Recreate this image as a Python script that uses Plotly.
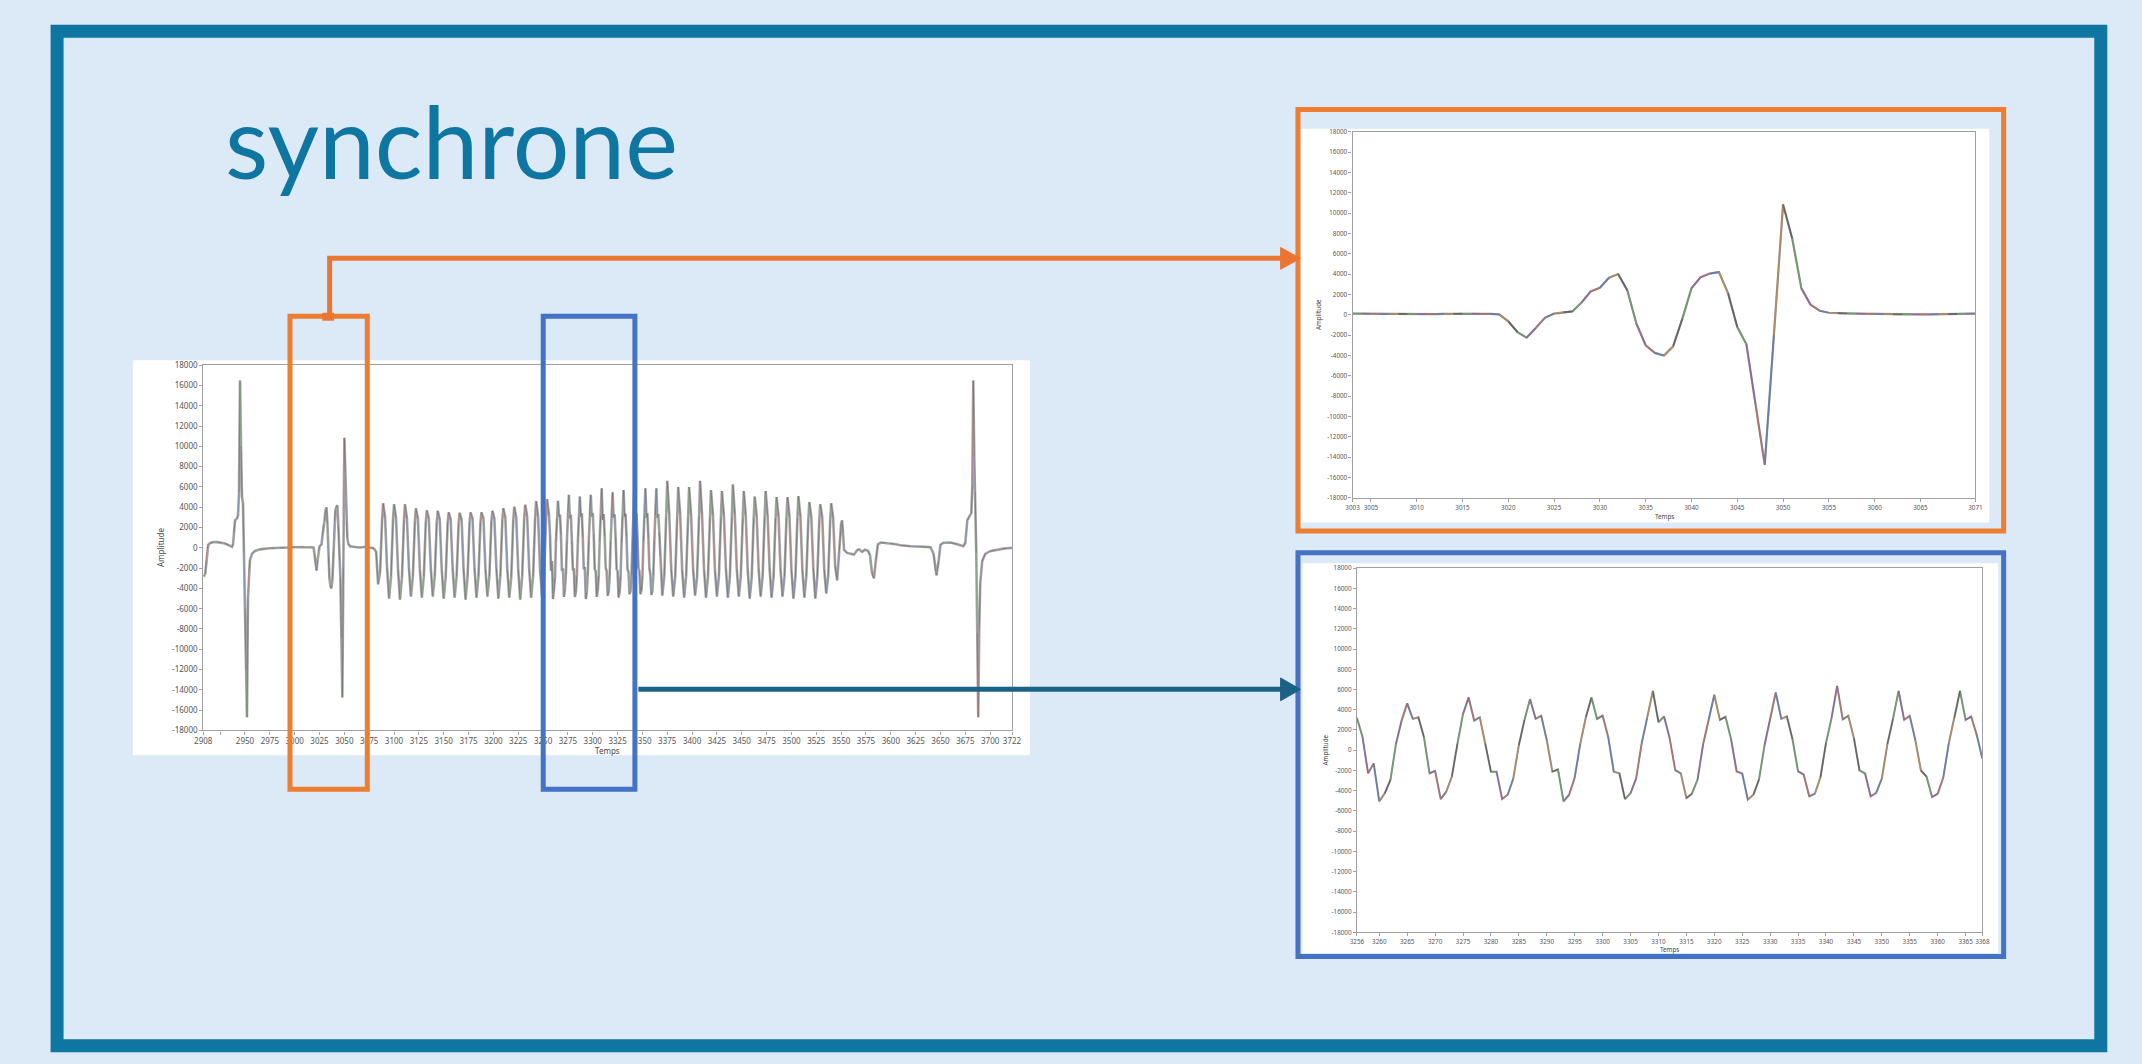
import plotly.graph_objects as go

W, H = 2142, 1064

# ---------------- signal data ----------------
# Full record, sparse samples before the first zoom window
MAIN_HEAD_T = [2908, 2909, 2910, 2911, 2912, 2913, 2915, 2918, 2922, 2926, 2930, 2934, 2937,
               2938, 2939, 2940, 2942, 2943, 2944, 2945, 2946, 2947, 2948, 2949, 2950, 2951,
               2952, 2953, 2954, 2955, 2957, 2960, 2965, 2970, 2975, 2980, 2985, 2990, 2995,
               3000, 3002]
MAIN_HEAD_V = [-2700, -2750, -2550, -1300, -100, 300, 480, 560, 560, 520, 420, 250, 100,
               400, 1500, 2700, 2900, 3200, 5500, 16500, 10000, 5000, 4400, -500, -6000, -12000,
               -16700, -5000, -2200, -1200, -600, -300, -150, -80, -40, -20, 0, 20, 40,
               70, 100]

# Zoom window 1 (one sample per time step)
ORANGE_START = 3003
ORANGE_V = [120, 110, 100, 60, 70, 90, 80, 60, 60, 70,            # 3003-3012
            90, 100, 110, 110, 100, 90, 40, -650, -1700, -2250,   # 3013-3022
            -1300, -300, 120, 250, 330, 1200, 2300, 2650, 3650, 4000,  # 3023-3032
            2400, -900, -3000, -3750, -4000, -3100, -400, 2600, 3700, 4050,  # 3033-3042
            4200, 2100, -1200, -2900, -8800, -14750, -2000, 10850, 7500, 2600,  # 3043-3052
            1000, 400, 200, 140, 130, 110, 90, 70, 50, 30,        # 3053-3062
            20, 20, 30, 40, 60, 80, 90, 110, 120]                 # 3063-3071

# Sparse samples between the two zoom windows
MAIN_MID_T = [3072, 3075, 3078, 3080, 3082, 3084, 3086, 3088,
              3089, 3091, 3093, 3095, 3097, 3099,
              3100, 3102, 3104, 3106, 3108, 3110,
              3111, 3113, 3115, 3117, 3119, 3121,
              3122, 3124, 3126, 3128, 3130, 3132,
              3133, 3135, 3137, 3139, 3141, 3143,
              3144, 3146, 3148, 3150, 3152, 3154,
              3155, 3157, 3159, 3161, 3163, 3165,
              3166, 3168, 3170, 3172, 3174, 3176,
              3177, 3179, 3181, 3183, 3185, 3187,
              3188, 3190, 3192, 3194, 3196, 3198,
              3199, 3201, 3203, 3205, 3207, 3209,
              3210, 3212, 3214, 3216, 3218, 3220,
              3221, 3223, 3225, 3227, 3229, 3231,
              3232, 3234, 3236, 3238, 3240, 3242,
              3243, 3245, 3247, 3249, 3251, 3253,
              3254]
MAIN_MID_V = [100, 30, 0, -100, -400, -3600, -2400, 2800,
              4400, 3000, -2000, -5000, -2800, 2800,
              4300, 3000, -2100, -5100, -2900, 2700,
              4300, 2900, -2000, -4800, -2800, 2600,
              3900, 2900, -2100, -4900, -2800, 2600,
              3700, 2900, -2000, -4800, -2800, 2500,
              3650, 2800, -2100, -5000, -2900, 2500,
              3500, 2800, -2000, -4900, -2800, 2400,
              3450, 2800, -2100, -5100, -2900, 2500,
              3500, 2900, -2000, -4900, -2800, 2500,
              3500, 2900, -2100, -4800, -2800, 2600,
              3650, 2900, -2000, -5000, -2800, 2700,
              3900, 3000, -2100, -4900, -2900, 2700,
              4050, 3000, -2100, -5100, -2800, 2800,
              4250, 3100, -2000, -4900, -2800, 2900,
              4600, 3100, -2200, -4800, -2900, 2900,
              4800]

# Zoom window 2 (one sample per time step)
BLUE_START = 3256
BLUE_V = [3200, 1300, -2280, -1300, -5050, -4240, -2930, 650, 2930,          # 3256-3264
          4630, 3100, 3260, 1300, -2280, -2050, -4830, -4080, -2600, 650, 3590,  # 3265-3275
          5220, 2930, 3260, 650, -2120, -2120, -4830, -4400, -2800, 500, 3000,   # 3276-3286
          5050, 3100, 3400, 1000, -2120, -1900, -5050, -4400, -2700, 650, 3260,  # 3287-3297
          5220, 3100, 3420, 1300, -2120, -2280, -4830, -4240, -2800, 700, 3200,  # 3298-3308
          5870, 2770, 3330, 1200, -1960, -2280, -4730, -4300, -2900, 600, 3000,  # 3309-3319
          5480, 3000, 3300, 1100, -2100, -2300, -4890, -4400, -2900, 500, 3100,  # 3320-3330
          5700, 3100, 3350, 1100, -2100, -2400, -4560, -4300, -2700, 700, 3200,  # 3331-3341
          6360, 3050, 3400, 1200, -2000, -2300, -4560, -4200, -2800, 600, 3100,  # 3342-3352
          5870, 3000, 3400, 1000, -2000, -2600, -4630, -4300, -2700, 700, 3200,  # 3353-3363
          5870, 3000, 3330, 1500, -815]                                         # 3364-3368

# Sparse samples after the second zoom window
MAIN_TAIL_T = [3369, 3370, 3372, 3374,
               3375, 3377, 3379, 3381, 3383, 3385,
               3386, 3388, 3390, 3392, 3394, 3396,
               3397, 3399, 3401, 3403, 3405, 3407,
               3408, 3410, 3412, 3414, 3416, 3418,
               3419, 3421, 3423, 3425, 3427, 3429,
               3430, 3432, 3434, 3436, 3438, 3440,
               3441, 3443, 3445, 3447, 3449, 3451,
               3452, 3454, 3456, 3458, 3460, 3462,
               3463, 3465, 3467, 3469, 3471, 3473,
               3474, 3476, 3478, 3480, 3482, 3484,
               3485, 3487, 3489, 3491, 3493, 3495,
               3496, 3498, 3500, 3502, 3504, 3506,
               3507, 3509, 3511, 3513, 3515, 3517,
               3518, 3520, 3522, 3524, 3526, 3528,
               3529, 3531, 3533, 3535, 3537, 3539,
               3540, 3542, 3544, 3546, 3548, 3550, 3551, 3552, 3553,
               3556, 3560, 3563, 3566, 3568, 3571, 3574, 3577, 3579, 3581, 3583, 3585,
               3587, 3590, 3595, 3600, 3605, 3610, 3620, 3630, 3640, 3643, 3645, 3646,
               3648, 3650, 3653, 3660, 3667, 3673, 3675, 3677, 3679, 3681, 3682, 3683,
               3684, 3685, 3686, 3687, 3688, 3689, 3690, 3692, 3695, 3700, 3706, 3712,
               3717, 3722]
MAIN_TAIL_V = [-2100, -4700, -2800, 3000,
               6600, 3300, -2100, -4800, -2900, 3000,
               6000, 3300, -2200, -4900, -2800, 3000,
               6000, 3200, -2100, -4700, -2900, 3100,
               6600, 3300, -2100, -4900, -2800, 3000,
               5700, 3200, -2200, -4800, -2800, 3000,
               5600, 3200, -2000, -4900, -2900, 3000,
               6250, 3300, -2100, -4800, -2800, 2900,
               5600, 3200, -2200, -5000, -2900, 2900,
               5050, 3100, -2100, -4800, -2800, 3000,
               5600, 3200, -2000, -4900, -2900, 2900,
               5000, 3100, -2100, -4800, -2800, 2900,
               5000, 3100, -2200, -5000, -2900, 2900,
               5100, 3100, -2100, -4900, -2800, 2800,
               4500, 3000, -2000, -5000, -2900, 2700,
               4300, 3000, -2100, -4500, -2800, 2700,
               4400, 2900, -1800, -3200, -500, 2400, 2700, 1500, -200,
               -500, -600, -650, -250, -150, -400, -180, -300, -700, -2400, -3000, -1200,
               350, 520, 480, 430, 350, 260, 150, 120, 60, -600, -2300, -2700,
               -1400, 300, 500, 520, 350, 160, 500, 2700, 3100, 3400, 6000, 16500,
               9000, 5500, -500, -8400, -16700, -8000, -3500, -1300, -600, -330, -200, -100,
               -40, 0]

ORANGE_T = list(range(ORANGE_START, ORANGE_START + len(ORANGE_V)))
BLUE_T = list(range(BLUE_START, BLUE_START + len(BLUE_V)))

MAIN_T = MAIN_HEAD_T + ORANGE_T + MAIN_MID_T + BLUE_T + MAIN_TAIL_T
MAIN_V = MAIN_HEAD_V + ORANGE_V + MAIN_MID_V + BLUE_V + MAIN_TAIL_V

# ---------------- ticks ----------------
Y_TICKS = list(range(-18000, 18001, 2000))
Y_LABELS = [str(v) for v in Y_TICKS]
MAIN_XTICKS = [2908, 2925, 2950, 2975, 3000, 3025, 3050, 3075, 3100, 3125, 3150, 3175, 3200,
               3225, 3250, 3275, 3300, 3325, 3350, 3375, 3400, 3425, 3450, 3475, 3500, 3525,
               3550, 3575, 3600, 3625, 3650, 3675, 3700, 3722]
MAIN_XLABELS = ["2908", ""] + [str(v) for v in MAIN_XTICKS[2:]]
ORANGE_XTICKS = [3003, 3005, 3010, 3015, 3020, 3025, 3030, 3035, 3040, 3045, 3050, 3055,
                 3060, 3065, 3071]
BLUE_XTICKS = [3256, 3260, 3265, 3270, 3275, 3280, 3285, 3290, 3295, 3300, 3305, 3310, 3315,
               3320, 3325, 3330, 3335, 3340, 3345, 3350, 3355, 3360, 3365, 3368]

# ---------------- colours ----------------
BG = "#DCE9F6"
FRAME = "#0E76A0"
ORANGE = "#ED7D31"
BLUE = "#4472C4"
TEAL = "#1B6386"
AXIS = "#a0a0a0"
TICKTXT = "#555555"
SEG_COLORS = ["#4daf4a", "#8e44ad", "#d9534f", "#3b6fd4", "#e08a2e", "#333333"]


def px(x):
    return x / W


def py(y):
    return 1 - y / H


def colored_segments(t, v, xa, ya, width, opacity, step, colors=SEG_COLORS):
    """Overlay the line with short runs cycling through the channel colours."""
    traces = []
    for ci, col in enumerate(colors):
        xs, ys = [], []
        for i in range(len(t) - 1):
            if (i // step) % len(colors) == ci:
                xs += [t[i], t[i + 1], None]
                ys += [v[i], v[i + 1], None]
        traces.append(go.Scatter(x=xs, y=ys, mode="lines", xaxis=xa, yaxis=ya,
                                 line=dict(color=col, width=width), opacity=opacity,
                                 hoverinfo="skip", connectgaps=False))
    return traces


fig = go.Figure()

# main record: light grey trace with a thin darker core and faint channel tints
fig.add_trace(go.Scatter(x=MAIN_T, y=MAIN_V, mode="lines", xaxis="x", yaxis="y",
                         line=dict(color="#a6a6a6", width=2.6)))
MAIN_COLORS = ["#3a3a3a", "#5aa05a", "#3a3a3a", "#c05050", "#3a3a3a", "#5070c0"]
for tr in colored_segments(MAIN_T, MAIN_V, "x", "y", 0.8, 0.45, 1, MAIN_COLORS):
    fig.add_trace(tr)

# zoom window 1
fig.add_trace(go.Scatter(x=ORANGE_T, y=ORANGE_V, mode="lines", xaxis="x2", yaxis="y2",
                         line=dict(color="#8c8c8c", width=2.2)))
for tr in colored_segments(ORANGE_T, ORANGE_V, "x2", "y2", 1.6, 0.45, 1):
    fig.add_trace(tr)

# zoom window 2
fig.add_trace(go.Scatter(x=BLUE_T, y=BLUE_V, mode="lines", xaxis="x3", yaxis="y3",
                         line=dict(color="#8c8c8c", width=2.0)))
for tr in colored_segments(BLUE_T, BLUE_V, "x3", "y3", 1.4, 0.45, 1):
    fig.add_trace(tr)


def axis_style(size, ticks, labels):
    return dict(showline=True, linecolor=AXIS, linewidth=1.2, mirror=True, ticks="outside",
                ticklen=3, tickwidth=1, tickcolor=AXIS, showgrid=False, zeroline=False,
                tickfont=dict(family="Noto Sans", size=size, color=TICKTXT), tickangle=0,
                tickmode="array", tickvals=ticks, ticktext=labels)


fig.update_layout(
    width=W, height=H, margin=dict(l=0, r=0, t=0, b=0),
    paper_bgcolor=BG, plot_bgcolor="white", showlegend=False,
    xaxis=dict(domain=[px(196), px(1012)], range=[2908, 3722], anchor="y",
               **axis_style(8, MAIN_XTICKS, MAIN_XLABELS)),
    yaxis=dict(domain=[py(732), py(363)], range=[-18000, 18000], anchor="x",
               **axis_style(8, Y_TICKS, Y_LABELS)),
    xaxis2=dict(domain=[px(1355.6), px(1984)], range=[3003, 3071], anchor="y2",
                **axis_style(6.3, ORANGE_XTICKS, [str(v) for v in ORANGE_XTICKS])),
    yaxis2=dict(domain=[py(497), py(127)], range=[-18000, 18000], anchor="x2",
                **axis_style(6.3, Y_TICKS, Y_LABELS)),
    xaxis3=dict(domain=[px(1360), px(1991)], range=[3256, 3368], anchor="y3",
                **axis_style(6.3, BLUE_XTICKS, [str(v) for v in BLUE_XTICKS])),
    yaxis3=dict(domain=[py(936), py(568)], range=[-18000, 18000], anchor="x3",
                **axis_style(6.3, Y_TICKS, Y_LABELS)),
)

shapes = []


def rect(x0, y0, x1, y1, **kw):
    shapes.append(dict(type="rect", xref="paper", yref="paper",
                       x0=px(x0), x1=px(x1), y0=py(y1), y1=py(y0), **kw))


def path(points, **kw):
    d = "M " + " L ".join(f"{px(x):.6f},{py(y):.6f}" for x, y in points)
    if kw.pop("closed", False):
        d += " Z"
    shapes.append(dict(type="path", xref="paper", yref="paper", path=d, **kw))


# white picture backgrounds behind each chart
rect(125, 358, 1030, 757, fillcolor="white", line=dict(width=0), layer="below")
rect(1303, 124, 1998, 522, fillcolor="white", line=dict(width=0), layer="below")
rect(1305, 563, 2007, 957, fillcolor="white", line=dict(width=0), layer="below")

# slide frame
rect(48.5, 25.5, 2110.5, 1050.5, line=dict(color=FRAME, width=13), fillcolor="rgba(0,0,0,0)")

# selection boxes on the full record
rect(283.5, 313.5, 361.5, 791.5, line=dict(color=ORANGE, width=5), fillcolor="rgba(0,0,0,0)")
rect(539, 313.5, 631.5, 791.5, line=dict(color=BLUE, width=5), fillcolor="rgba(0,0,0,0)")

# frames of the zoomed panels
rect(1300.5, 104.5, 2012.5, 530.5, line=dict(color=ORANGE, width=5), fillcolor="rgba(0,0,0,0)")
rect(1300.5, 552.5, 2012.5, 960.5, line=dict(color=BLUE, width=5), fillcolor="rgba(0,0,0,0)")

# connectors
path([(323.5, 314), (323.5, 255), (1286, 255)], line=dict(color="#EB7533", width=5))
rect(316, 310, 328, 318, fillcolor="#EB7533", line=dict(width=0))
path([(1283, 244), (1303, 255), (1283, 266)], closed=True, fillcolor="#EB7533",
     line=dict(color="#EB7533", width=1))
path([(635, 690.5), (1286, 690.5)], line=dict(color=TEAL, width=5))
path([(1283, 679), (1303, 690.5), (1283, 702)], closed=True, fillcolor=TEAL,
     line=dict(color=TEAL, width=1))

fig.update_layout(shapes=shapes)

ann = []


def label(text, x, y, size, angle=0, color="#444444", family="Noto Sans",
          xanchor="center", yanchor="middle"):
    ann.append(dict(text=text, x=px(x), y=py(y), xref="paper", yref="paper",
                    showarrow=False, textangle=angle, xanchor=xanchor, yanchor=yanchor,
                    font=dict(family=family, size=size, color=color)))


label("synchrone", 216, 73, 100, color=FRAME, family="Lato", xanchor="left", yanchor="top")

label("Amplitude", 153, 547, 8, angle=-90)
label("Temps", 604, 752, 8)
label("Amplitude", 1322, 312, 6.3, angle=-90)
label("Temps", 1670, 516, 6.3)
label("Amplitude", 1328, 752, 6.3, angle=-90)
label("Temps", 1675, 953, 6.3)

fig.update_layout(annotations=ann)

fig.write_html("out.html")
